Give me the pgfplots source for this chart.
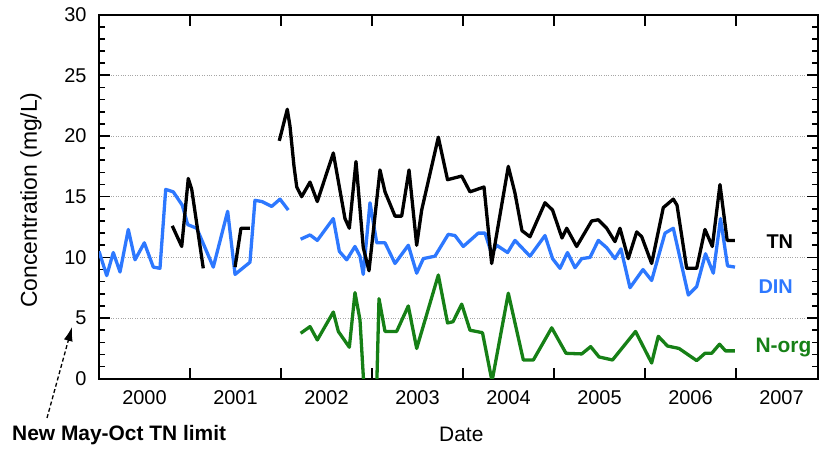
\documentclass[border=0pt]{standalone}
\usepackage{pgfplots}
\pgfplotsset{compat=1.18}
\usepackage{fontspec}
\setmainfont{Liberation Sans}
\usetikzlibrary{arrows.meta}
\definecolor{dincol}{RGB}{45,120,255}
\definecolor{norgcol}{RGB}{22,128,22}
\begin{document}
\begin{tikzpicture}
\path[use as bounding box] (0,0) rectangle (820bp,449bp);
% series labels and annotation (drawn first)
\node[anchor=base west, font=\bfseries\fontsize{20}{24}\selectfont] at (763bp,200bp) {TN};
\node[anchor=base west, font=\bfseries\fontsize{20}{24}\selectfont, text=dincol] at (755bp,155bp) {DIN};
\node[anchor=base west, font=\bfseries\fontsize{21}{24}\selectfont, text=norgcol] at (752bp,96bp) {N-org};
\node[anchor=base west, font=\bfseries\fontsize{21}{24}\selectfont, inner sep=0pt] at (12bp,9bp) {New May-Oct TN limit};
\draw[-{Latex[length=14bp,width=9bp]}, dash pattern=on 4bp off 2.5bp, line width=1.3bp] (47bp,31bp) -- (72bp,122bp);
\begin{axis}[
 name=ax,
 at={(99bp,70.2bp)}, anchor=south west,
 scale only axis, width=718.9bp, height=364.2bp,
 xmin=2000, xmax=2007.9, ymin=0, ymax=30,
 clip mode=individual,
 axis line style={black, line width=2bp},
 xtick={2000,...,2007},
 xticklabels={2000,2001,2002,2003,2004,2005,2006,2007},
 minor x tick num=5,
 ytick={0,5,...,30}, minor y tick num=4,
 tick align=inside,
 major tick length=11bp, minor tick length=6bp,
 tick style={black, line width=1.6bp},
 ymajorgrids, grid style={gray!70, dotted, line width=0.9bp},
 ticklabel style={font=\fontsize{20}{24}\selectfont},
 yticklabel style={xshift=-9bp},
 xticklabel style={xshift=45.5bp, yshift=-8bp},
 xlabel={Date},
 xlabel style={at={(axis description cs:0.504,-0.154)}, anchor=center, font=\fontsize{21}{24}\selectfont},
 ylabel={Concentration (mg/L)},
 ylabel style={at={(axis description cs:-0.0946,0.491)}, anchor=center, font=\fontsize{23}{26}\selectfont},
 every axis plot/.append style={line width=3.3bp, line join=round},
 /pgf/number format/assume math mode=true,
]
% DIN
\addplot[dincol] coordinates {(2000.000,10.5)(2000.085,8.5)(2000.157,10.4)(2000.231,8.8)(2000.322,12.3)(2000.396,9.8)(2000.498,11.2)(2000.597,9.2)(2000.670,9.1)(2000.733,15.6)(2000.816,15.4)(2000.915,14.3)(2000.975,12.7)(2001.074,12.4)(2001.256,9.2)(2001.414,13.8)(2001.495,8.6)(2001.659,9.6)(2001.714,14.7)(2001.791,14.6)(2001.898,14.2)(2001.989,14.8)(2002.080,13.9)};
\addplot[dincol] coordinates {(2002.216,11.5)(2002.319,11.85)(2002.399,11.4)(2002.575,13.2)(2002.641,10.5)(2002.722,9.8)(2002.813,10.9)(2002.868,10.1)(2002.904,8.6)(2002.978,14.5)(2003.052,11.2)(2003.143,11.2)(2003.253,9.5)(2003.399,11.0)(2003.491,8.7)(2003.564,9.9)(2003.692,10.1)(2003.838,11.9)(2003.912,11.8)(2004.003,10.9)(2004.168,12.0)(2004.242,12.0)(2004.315,10.3)(2004.370,11.0)(2004.490,10.4)(2004.571,11.4)(2004.736,10.1)(2004.901,11.8)(2004.984,9.9)(2005.066,9.1)(2005.148,10.4)(2005.231,9.15)(2005.305,9.9)(2005.396,10.0)(2005.487,11.4)(2005.579,10.8)(2005.670,9.9)(2005.736,10.7)(2005.835,7.5)(2005.978,9.0)(2006.073,8.1)(2006.220,12.0)(2006.311,12.4)(2006.476,6.9)(2006.568,7.6)(2006.665,10.3)(2006.751,8.7)(2006.830,13.2)(2006.907,9.3)(2006.989,9.2)};
% TN
\addplot[black] coordinates {(2000.805,12.6)(2000.909,10.9)(2000.981,16.5)(2001.019,15.6)(2001.146,9.1)};
\addplot[black] coordinates {(2001.495,9.2)(2001.560,12.4)(2001.659,12.4)};
\addplot[black] coordinates {(2001.981,19.6)(2002.069,22.2)(2002.099,20.8)(2002.143,17.5)(2002.173,15.8)(2002.227,15.0)(2002.319,16.2)(2002.399,14.6)(2002.575,18.6)(2002.703,13.2)(2002.751,12.4)(2002.824,17.9)(2002.904,10.8)(2002.967,8.9)(2003.088,17.2)(2003.143,15.4)(2003.253,13.4)(2003.326,13.4)(2003.407,17.2)(2003.491,11.0)(2003.546,13.9)(2003.729,19.9)(2003.830,16.4)(2003.986,16.7)(2004.077,15.4)(2004.231,15.8)(2004.315,9.5)(2004.498,17.5)(2004.571,15.3)(2004.648,12.2)(2004.736,11.7)(2004.901,14.5)(2004.984,13.9)(2005.088,11.6)(2005.140,12.4)(2005.249,10.9)(2005.414,13.0)(2005.487,13.1)(2005.579,12.4)(2005.670,11.3)(2005.725,12.4)(2005.816,9.9)(2005.909,12.1)(2005.964,11.7)(2006.073,9.5)(2006.201,14.1)(2006.311,14.8)(2006.352,14.3)(2006.458,9.1)(2006.568,9.1)(2006.659,12.3)(2006.740,10.9)(2006.824,16.0)(2006.903,11.4)(2006.989,11.4)};
% N-org
\addplot[norgcol] coordinates {(2002.216,3.75)(2002.319,4.3)(2002.399,3.2)(2002.575,5.5)(2002.630,3.9)(2002.751,2.6)(2002.813,7.1)(2002.868,4.85)(2002.918,-1.5)(2003.049,-1.5)(2003.077,6.6)(2003.143,3.9)(2003.271,3.9)(2003.399,6.0)(2003.491,2.5)(2003.729,8.55)(2003.830,4.6)(2003.890,4.7)(2003.986,6.15)(2004.077,4.0)(2004.214,3.8)(2004.319,-0.2)(2004.498,7.05)(2004.663,1.55)(2004.773,1.55)(2004.975,4.2)(2005.132,2.1)(2005.305,2.05)(2005.403,2.65)(2005.495,1.8)(2005.643,1.55)(2005.896,3.9)(2006.073,1.3)(2006.146,3.5)(2006.247,2.7)(2006.374,2.5)(2006.568,1.5)(2006.659,2.1)(2006.733,2.1)(2006.819,2.85)(2006.885,2.3)(2006.989,2.3)};
\end{axis}
\end{tikzpicture}
\end{document}
